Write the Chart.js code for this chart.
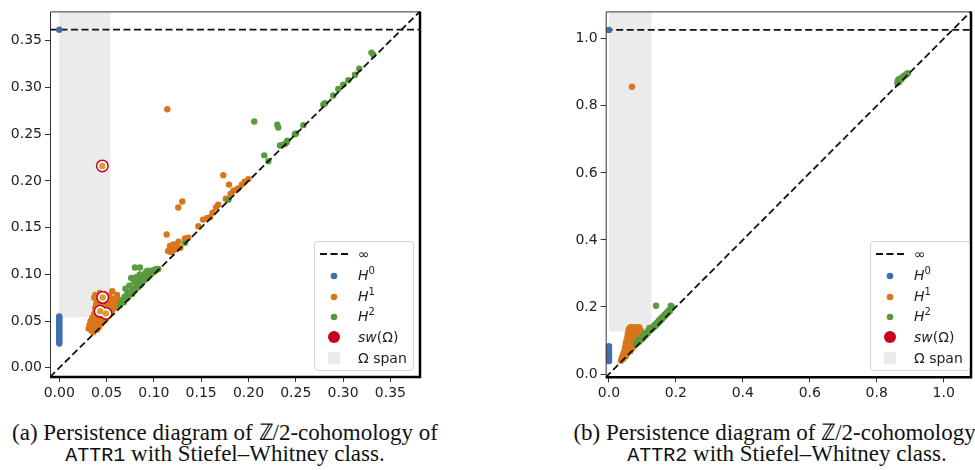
<!DOCTYPE html>
<html>
<head>
<meta charset="utf-8">
<script src="https://cdn.jsdelivr.net/npm/chart.js@4"></script>
<style>
  body { margin: 0; background: #fff; width: 975px; height: 470px; overflow: hidden; position: relative; font-family: "DejaVu Sans", sans-serif; }
  canvas { position: absolute; top: 0; }
  .legend { position: absolute; top: 241px; width: 98px; height: 128px; border: 1px solid #d6d6d6; border-radius: 4px; background: rgba(255,255,255,0.85); font-size: 14px; color: #222; }
  .legend .row { position: absolute; left: 0; height: 20px; line-height: 20px; width: 100%; }
  .legend svg { position: absolute; left: 4px; top: 0; }
  .legend .lbl { position: absolute; left: 43px; top: 0; white-space: nowrap; }
  .legend i { font-family: "DejaVu Sans", sans-serif; }
  .legend sup { font-size: 10px; vertical-align: 6px; line-height: 0; font-style: normal; }
  .cap { position: absolute; font-family: "Liberation Serif", serif; font-size: 23px; color: #111; white-space: nowrap; text-align: center; }
  .cap .tt { font-family: "Liberation Mono", "DejaVu Sans Mono"; font-size: 20px; }
</style>
</head>
<body>
<canvas id="chartA" width="430" height="400" style="left:0px"></canvas>
<canvas id="chartB" width="420" height="400" style="left:555px"></canvas>

<div class="legend" id="legA" style="left:314px"></div>
<div class="legend" id="legB" style="left:870px"></div>

<div class="cap" style="left:-25px; width:500px; top:415px;">(a) Persistence diagram of ℤ/2-cohomology of</div>
<div class="cap" style="left:-25px; width:500px; top:441px;"><span class="tt">ATTR1</span> with Stiefel–Whitney class.</div>
<div class="cap" style="left:537px; width:500px; top:415px;">(b) Persistence diagram of ℤ/2-cohomology of</div>
<div class="cap" style="left:537px; width:500px; top:441px;"><span class="tt">ATTR2</span> with Stiefel–Whitney class.</div>

<script>
// ---- data: [birth, death] pairs ----

// (a) ATTR1
const ticksA = [0, 0.05, 0.10, 0.15, 0.20, 0.25, 0.30, 0.35];
const rangeA = [-0.0098, 0.3813];
const infA = 0.3618;
const spanA = 0.054;

const h0A = [
  [0, 0.026], [0, 0.028], [0, 0.030], [0, 0.032], [0, 0.034], [0, 0.036], [0, 0.038], [0, 0.040],
  [0, 0.042], [0, 0.044], [0, 0.046], [0, 0.048], [0, 0.050], [0, 0.052], [0, 0.054], [0, 0.055],
  [0, 0.3618]
];

const h1A = [
  [0.031, 0.042], [0.032, 0.046], [0.033, 0.050], [0.034, 0.040], [0.035, 0.044], [0.035, 0.054],
  [0.036, 0.038], [0.036, 0.048], [0.037, 0.058], [0.037, 0.075], [0.038, 0.042], [0.038, 0.052],
  [0.038, 0.064], [0.038, 0.078], [0.039, 0.068], [0.040, 0.041], [0.040, 0.046], [0.040, 0.056],
  [0.040, 0.072], [0.041, 0.061], [0.042, 0.044], [0.042, 0.050], [0.042, 0.066], [0.043, 0.055],
  [0.043, 0.080], [0.044, 0.047], [0.044, 0.060], [0.045, 0.052], [0.046, 0.049], [0.046, 0.064],
  [0.047, 0.056], [0.047, 0.069], [0.048, 0.051], [0.048, 0.079], [0.049, 0.060], [0.050, 0.053],
  [0.050, 0.066], [0.051, 0.072], [0.052, 0.056], [0.052, 0.063], [0.053, 0.077], [0.054, 0.059],
  [0.055, 0.068], [0.056, 0.062], [0.056, 0.082], [0.057, 0.074], [0.058, 0.064], [0.059, 0.070],
  [0.060, 0.066], [0.061, 0.078], [0.062, 0.069], [0.063, 0.073], [0.064, 0.068], [0.066, 0.071],
  [0.068, 0.072],
  [0.1135, 0.1427], [0.115, 0.125], [0.117, 0.1305], [0.118, 0.124], [0.1205, 0.132], [0.121, 0.126],
  [0.122, 0.1314], [0.124, 0.1285], [0.126, 0.135], [0.128, 0.1285], [0.1329, 0.1385], [0.1364, 0.1391],
  [0.130, 0.178], [0.1258, 0.1716], [0.147, 0.1515], [0.152, 0.1586], [0.156, 0.160], [0.1593, 0.161],
  [0.162, 0.166], [0.1657, 0.1716], [0.168, 0.1744], [0.1734, 0.2061], [0.176, 0.181], [0.1794, 0.196],
  [0.181, 0.186], [0.184, 0.1895], [0.186, 0.190], [0.189, 0.192], [0.193, 0.196], [0.196, 0.199],
  [0.1998, 0.2019], [0.1142, 0.2766], [0.0455, 0.216]
];

const h2A = [
  [0.064, 0.067], [0.066, 0.072], [0.068, 0.070], [0.069, 0.076], [0.070, 0.0846], [0.071, 0.074],
  [0.072, 0.079], [0.073, 0.076], [0.074, 0.088], [0.075, 0.081], [0.076, 0.0962], [0.077, 0.079],
  [0.078, 0.085], [0.079, 0.092], [0.080, 0.1074], [0.080, 0.083], [0.081, 0.097], [0.082, 0.089],
  [0.083, 0.086], [0.084, 0.094], [0.0853, 0.1074], [0.085, 0.100], [0.086, 0.089], [0.087, 0.096],
  [0.088, 0.092], [0.089, 0.100], [0.090, 0.094], [0.091, 0.098], [0.092, 0.103], [0.093, 0.096],
  [0.094, 0.1039], [0.095, 0.099], [0.096, 0.101], [0.097, 0.100], [0.098, 0.104], [0.099, 0.102],
  [0.100, 0.103], [0.101, 0.105], [0.102, 0.104], [0.103, 0.1057], [0.1047, 0.1057],
  [0.1329, 0.1338], [0.1787, 0.1797], [0.2061, 0.2635], [0.2167, 0.2273], [0.221, 0.221],
  [0.2305, 0.260], [0.2315, 0.257], [0.2333, 0.2378], [0.235, 0.238], [0.2385, 0.2395],
  [0.2404, 0.2413], [0.241, 0.2431], [0.249, 0.250], [0.2502, 0.2508], [0.258, 0.2596],
  [0.2791, 0.2818], [0.281, 0.283], [0.2896, 0.2913], [0.2949, 0.2984], [0.3002, 0.303],
  [0.3055, 0.3076], [0.3126, 0.3135], [0.3171, 0.3199], [0.330, 0.3372], [0.332, 0.335]
];

const swA = [[0.0455, 0.216], [0.0459, 0.0752], [0.0432, 0.0605], [0.0494, 0.0582]];

// (b) ATTR2
const ticksB = [0, 0.2, 0.4, 0.6, 0.8, 1.0];
const rangeB = [-0.0097, 1.0817];
const infB = 1.0265;
const spanB = 0.127;

const h0B = [
  [0, 0.039], [0, 0.042], [0, 0.045], [0, 0.048], [0, 0.051], [0, 0.054], [0, 0.057], [0, 0.060],
  [0, 0.063], [0, 0.066], [0, 0.069], [0, 0.072], [0, 0.075], [0, 0.078], [0, 0.081], [0, 0.083],
  [0, 1.0265]
];

const h1B = [
  [0.036, 0.040], [0.038, 0.046], [0.040, 0.052], [0.042, 0.045], [0.043, 0.060], [0.045, 0.050],
  [0.046, 0.068], [0.047, 0.056], [0.048, 0.078], [0.049, 0.063], [0.050, 0.088], [0.050, 0.053],
  [0.051, 0.070], [0.052, 0.098], [0.053, 0.060], [0.054, 0.080], [0.055, 0.108], [0.056, 0.066],
  [0.056, 0.118], [0.057, 0.090], [0.058, 0.128], [0.059, 0.072], [0.060, 0.134], [0.060, 0.100],
  [0.061, 0.110], [0.063, 0.139], [0.062, 0.080], [0.063, 0.120], [0.064, 0.068], [0.065, 0.130],
  [0.066, 0.090], [0.067, 0.140], [0.068, 0.105], [0.069, 0.076], [0.070, 0.118], [0.071, 0.135],
  [0.072, 0.095], [0.073, 0.082], [0.074, 0.140], [0.075, 0.110], [0.076, 0.126], [0.077, 0.088],
  [0.078, 0.138], [0.079, 0.100], [0.080, 0.118], [0.081, 0.090], [0.082, 0.140], [0.083, 0.130],
  [0.084, 0.105], [0.085, 0.095], [0.086, 0.138], [0.087, 0.120], [0.088, 0.100], [0.089, 0.135],
  [0.090, 0.112], [0.091, 0.139], [0.092, 0.125], [0.094, 0.105], [0.095, 0.130], [0.097, 0.112],
  [0.098, 0.122], [0.100, 0.105], [0.101, 0.115],
  [0.0687, 0.857]
];

const h2B = [
  [0.0817, 0.0905], [0.085, 0.094], [0.088, 0.100], [0.090, 0.096], [0.093, 0.104], [0.096, 0.102],
  [0.098, 0.110], [0.100, 0.106], [0.103, 0.114], [0.106, 0.112], [0.108, 0.120], [0.110, 0.116],
  [0.113, 0.124], [0.116, 0.122], [0.118, 0.130], [0.121, 0.1377], [0.123, 0.130], [0.126, 0.136],
  [0.129, 0.134], [0.132, 0.142], [0.135, 0.140], [0.138, 0.148], [0.140, 0.145], [0.1407, 0.2035],
  [0.143, 0.153], [0.146, 0.150], [0.149, 0.160], [0.152, 0.157], [0.155, 0.166], [0.158, 0.163],
  [0.161, 0.172], [0.164, 0.170], [0.167, 0.178], [0.170, 0.176], [0.173, 0.184], [0.176, 0.182],
  [0.179, 0.190], [0.182, 0.188], [0.185, 0.196], [0.188, 0.2006], [0.185, 0.2035],
  [0.862, 0.868], [0.863, 0.874], [0.865, 0.879], [0.867, 0.871], [0.869, 0.877], [0.871, 0.882],
  [0.874, 0.879], [0.876, 0.885], [0.879, 0.887], [0.882, 0.889], [0.885, 0.891], [0.888, 0.894],
  [0.891, 0.896], [0.893, 0.897]
];

const swB = [];

// colours
const BLUE = '#3f6fb0';
const ORANGE = '#d8761c';
const GREEN = '#5a9a3e';
const RED = '#c6001c';
const SPAN = '#ebebeb';

const pts = arr => arr.map(p => ({ x: p[0], y: p[1] }));

// grey Omega span + matplotlib-ish frame
const spanPlugin = {
  id: 'span',
  beforeDatasetsDraw(chart, args, opts) {
    const { ctx, chartArea, scales } = chart;
    const x0 = scales.x.getPixelForValue(0);
    const x1 = scales.x.getPixelForValue(opts.end);
    const y1 = scales.y.getPixelForValue(opts.end);
    ctx.save();
    ctx.fillStyle = SPAN;
    ctx.fillRect(x0, chartArea.top, x1 - x0, y1 - chartArea.top);
    ctx.restore();
  },
  afterDraw(chart) {
    const { ctx, chartArea: a } = chart;
    ctx.save();
    ctx.strokeStyle = '#333';
    ctx.lineWidth = 1;
    ctx.beginPath();
    ctx.moveTo(a.left + 0.5, a.bottom);
    ctx.lineTo(a.left + 0.5, a.top + 0.5);
    ctx.lineTo(a.right, a.top + 0.5);
    ctx.stroke();
    ctx.strokeStyle = '#000';
    ctx.lineWidth = 2.5;
    ctx.beginPath();
    ctx.moveTo(a.left, a.bottom);
    ctx.lineTo(a.right, a.bottom);
    ctx.lineTo(a.right, a.top);
    ctx.stroke();
    ctx.restore();
  }
};

function makeChart(id, d) {
  const [lo, hi] = d.range;
  const axis = (ticks, isX) => ({
    type: 'linear',
    min: lo,
    max: hi,
    afterBuildTicks: s => { s.ticks = ticks.map(v => ({ value: v })); },
    afterFit: s => { if (isX) s.height = d.xh; else s.width = d.yw; },
    border: { display: false },
    grid: { drawOnChartArea: false, drawTicks: true, tickLength: 5, tickColor: '#333', lineWidth: 1 },
    ticks: {
      padding: 3,
      color: '#222',
      font: { family: 'DejaVu Sans', size: 14 },
      callback: v => v.toFixed(d.dec)
    }
  });

  return new Chart(document.getElementById(id), {
    type: 'scatter',
    data: {
      datasets: [
        { type: 'line', data: pts([[lo, d.inf], [hi, d.inf]]), borderColor: '#111', borderWidth: 1.8, borderDash: [7, 3.5], pointRadius: 0, order: 9 },
        { type: 'line', data: pts([[lo, lo], [hi, hi]]), borderColor: '#111', borderWidth: 1.8, borderDash: [7, 3.5], pointRadius: 0, order: 1 },
        { data: pts(d.h0), backgroundColor: BLUE, borderWidth: 0, pointRadius: 3.2, order: 8 },
        { data: pts(d.h1), backgroundColor: ORANGE, borderWidth: 0, pointRadius: 3.2, order: 7 },
        { data: pts(d.h2), backgroundColor: GREEN, borderWidth: 0, pointRadius: 3.2, order: 6 },
        { data: pts(d.sw), backgroundColor: RED, borderWidth: 0, pointRadius: 6.5, order: 5 },
        { data: pts(d.sw), backgroundColor: '#ffffff', borderWidth: 0, pointRadius: 5, order: 4 },
        { data: pts(d.sw), backgroundColor: '#dd9c38', borderWidth: 0, pointRadius: 3.2, order: 3 }
      ]
    },
    options: {
      responsive: false,
      animation: false,
      devicePixelRatio: 1,
      layout: { padding: { top: d.top, right: d.right, left: 0, bottom: 0 } },
      plugins: { legend: { display: false }, tooltip: { enabled: false }, span: { end: d.span } },
      scales: { x: axis(d.ticks, true), y: axis(d.ticks, false) }
    },
    plugins: [spanPlugin]
  });
}

makeChart('chartA', { range: rangeA, ticks: ticksA, inf: infA, span: spanA, h0: h0A, h1: h1A, h2: h2A, sw: swA, dec: 2, top: 7.5, right: 10, yw: 50, xh: 23 });
makeChart('chartB', { range: rangeB, ticks: ticksB, inf: infB, span: spanB, h0: h0B, h1: h1B, h2: h2B, sw: swB, dec: 1, top: 7.3, right: 0, yw: 50.7, xh: 22.7 });

// legends (math-style labels)
const legendRows = [
  { kind: 'dash', html: '∞' },
  { kind: 'dot', color: BLUE, html: '<i>H</i><sup>0</sup>' },
  { kind: 'dot', color: ORANGE, html: '<i>H</i><sup>1</sup>' },
  { kind: 'dot', color: GREEN, html: '<i>H</i><sup>2</sup>' },
  { kind: 'big', color: RED, html: '<i>sw</i>(Ω)' },
  { kind: 'box', color: SPAN, html: 'Ω span' }
];

function marker(r) {
  if (r.kind === 'dash') return '<svg width="32" height="20"><line x1="1" y1="10" x2="31" y2="10" stroke="#111" stroke-width="2" stroke-dasharray="7,3.5"/></svg>';
  if (r.kind === 'dot') return `<svg width="32" height="20"><circle cx="15" cy="11" r="3.3" fill="${r.color}"/></svg>`;
  if (r.kind === 'big') return `<svg width="32" height="20"><circle cx="15" cy="10" r="6" fill="${r.color}"/></svg>`;
  return `<svg width="32" height="20"><rect x="9" y="4" width="12" height="12" fill="${r.color}"/></svg>`;
}

['legA', 'legB'].forEach(id => {
  document.getElementById(id).innerHTML = legendRows.map((r, i) =>
    `<div class="row" style="top:${2 + i * 20.8}px">${marker(r)}<span class="lbl">${r.html}</span></div>`
  ).join('');
});
</script>
</body>
</html>
